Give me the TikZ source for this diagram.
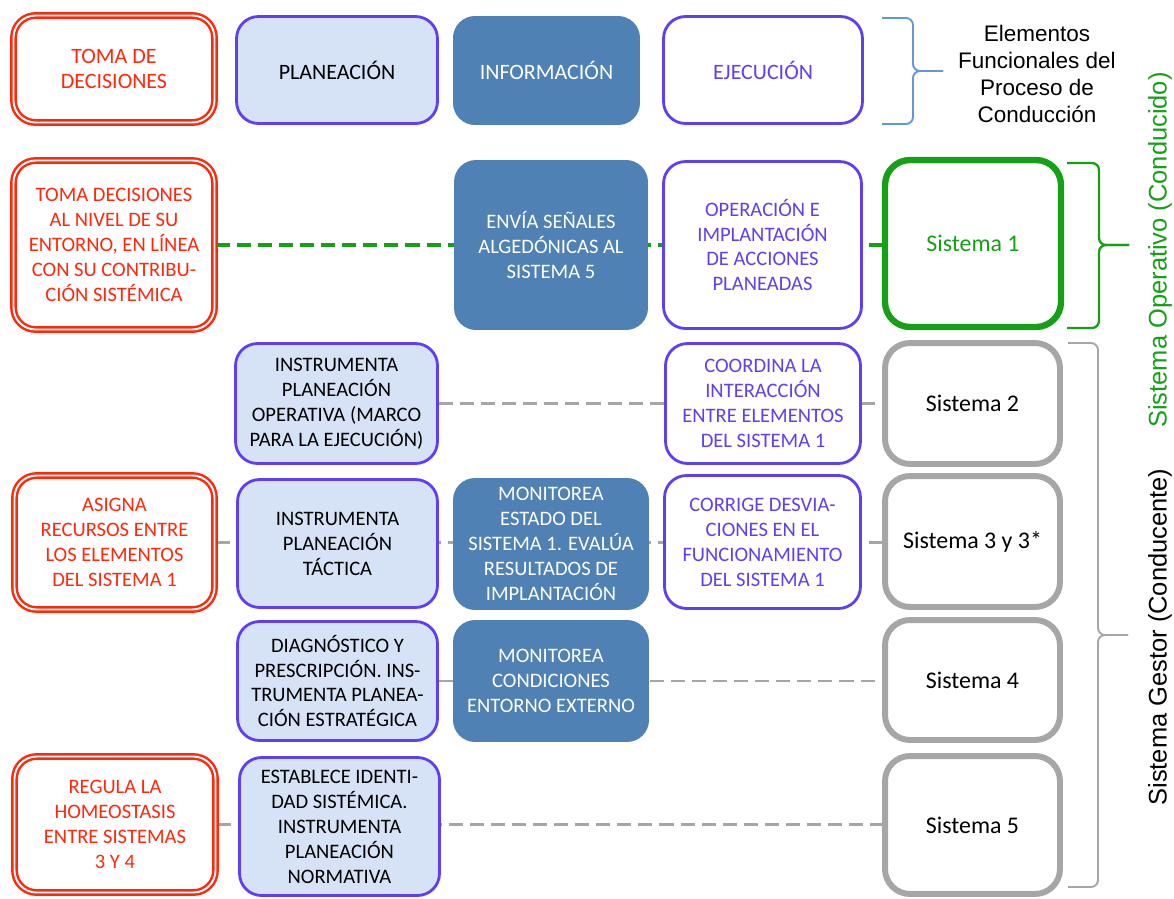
\documentclass[tikz,border=0pt]{standalone}
\usepackage{fontspec}
\setmainfont{Carlito}
\newfontfamily\arialfont{Liberation Sans}
\usepackage{tikz}
\usetikzlibrary{backgrounds}
\definecolor{redc}{RGB}{255,40,10}
\definecolor{purplec}{RGB}{96,62,245}
\definecolor{lightc}{RGB}{214,226,245}
\definecolor{darkc}{RGB}{79,129,181}
\definecolor{grayc}{RGB}{166,166,166}
\definecolor{greenc}{RGB}{22,160,22}
\definecolor{bracec}{RGB}{100,150,220}
\newcommand{\boxfont}{\fontsize{11.7}{14.2}\selectfont}
\newcommand{\topfont}{\fontsize{12.5}{14.6}\selectfont}
\newcommand{\sysfont}{\fontsize{13.6}{16}\selectfont}

\begin{document}
\begin{tikzpicture}[x=0.02cm, y=-0.02cm,
  every node/.style={inner sep=0pt, align=center, font=\boxfont},
  redbox/.style={draw=redc, double=white, double distance=1.1pt, line width=1.4pt, rounded corners=0.44cm, fill=white, text=redc},
  planbox/.style={draw=purplec, line width=1.6pt, rounded corners=0.44cm, fill=lightc},
  execbox/.style={draw=purplec, line width=1.6pt, rounded corners=0.44cm, fill=white, text=purplec},
  infobox/.style={rounded corners=0.44cm, fill=darkc, text=white},
  sysbox/.style={draw=grayc, line width=3.4pt, rounded corners=0.5cm, fill=white, font=\sysfont},
  graydash/.style={draw=grayc, line width=1.7pt, dash pattern=on 8pt off 4pt},
  braceline/.style={line width=1.1pt, rounded corners=4pt}]
\useasboundingbox (0,0) rectangle (1174,899);

\node[redbox, minimum width=4.02cm, minimum height=2.14cm, font=\topfont] (tomaDec) at (114,69) {TOMA DE\\DECISIONES};
\node[planbox, minimum width=4.02cm, minimum height=2.14cm, font=\topfont] (planea) at (337,70) {PLANEACIÓN};
\node[infobox, minimum width=3.74cm, minimum height=2.18cm, font=\topfont] (informa) at (546.5,70.5) {INFORMACIÓN};
\node[execbox, minimum width=3.98cm, minimum height=2.14cm, font=\topfont] (ejecuta) at (763,70) {EJECUCIÓN};

\node[redbox, minimum width=4.02cm, minimum height=3.38cm] (decEntorno) at (114,245) {TOMA DECISIONES\\AL NIVEL DE SU\\ENTORNO, EN LÍNEA\\CON SU CONTRIBU-\\CIÓN SISTÉMICA};
\node[infobox, minimum width=3.88cm, minimum height=3.40cm] (algedon) at (551,245) {ENVÍA SEÑALES\\ALGEDÓNICAS AL\\SISTEMA 5};
\node[execbox, minimum width=3.96cm, minimum height=3.34cm] (operacion) at (762.5,245) {OPERACIÓN E\\IMPLANTACIÓN\\DE ACCIONES\\PLANEADAS};
\node[sysbox, draw=greenc, line width=3.6pt, text=greenc, minimum width=3.52cm, minimum height=3.34cm] (sisUno) at (973,243.5) {Sistema 1};

\node[planbox, minimum width=4.04cm, minimum height=2.40cm] (planOper) at (336.5,403.5) {INSTRUMENTA\\PLANEACIÓN\\OPERATIVA (MARCO\\PARA LA EJECUCIÓN)};
\node[execbox, minimum width=3.90cm, minimum height=2.40cm] (coordina) at (763,403.5) {COORDINA LA\\INTERACCIÓN\\ENTRE ELEMENTOS\\DEL SISTEMA 1};
\node[sysbox, minimum width=3.50cm, minimum height=2.42cm] (sisDos) at (972.5,403.5) {Sistema 2};

\node[redbox, minimum width=4.00cm, minimum height=2.68cm] (asigna) at (114.5,542.5) {ASIGNA\\RECURSOS ENTRE\\LOS ELEMENTOS\\DEL SISTEMA 1};
\node[planbox, minimum width=4.00cm, minimum height=2.56cm] (planTac) at (337.5,543.5) {INSTRUMENTA\\PLANEACIÓN\\TÁCTICA};
\node[infobox, minimum width=3.92cm, minimum height=2.64cm] (monEstado) at (551,544) {MONITOREA\\ESTADO DEL\\SISTEMA 1. EVALÚA\\RESULTADOS DE\\IMPLANTACIÓN};
\node[execbox, minimum width=3.92cm, minimum height=2.66cm] (corrige) at (762.5,542) {CORRIGE DESVIA-\\CIONES EN EL\\FUNCIONAMIENTO\\DEL SISTEMA 1};
\node[sysbox, minimum width=3.50cm, minimum height=2.62cm] (sisTres) at (972.5,541.5) {Sistema 3 y 3*};

\node[planbox, minimum width=4.00cm, minimum height=2.38cm] (diagnos) at (337.5,681) {DIAGNÓSTICO Y\\PRESCRIPCIÓN. INS-\\TRUMENTA PLANEA-\\CIÓN ESTRATÉGICA};
\node[infobox, minimum width=3.92cm, minimum height=2.44cm] (monEntorno) at (551,681) {MONITOREA\\CONDICIONES\\ENTORNO EXTERNO};
\node[sysbox, minimum width=3.50cm, minimum height=2.40cm] (sisCuatro) at (972.5,680) {Sistema 4};

\node[redbox, minimum width=4.02cm, minimum height=2.72cm] (regula) at (115,824.5) {REGULA LA\\HOMEOSTASIS\\ENTRE SISTEMAS\\3 Y 4};
\node[planbox, minimum width=4.00cm, minimum height=2.76cm] (identidad) at (339.5,826.5) {ESTABLECE IDENTI-\\DAD SISTÉMICA.\\INSTRUMENTA\\PLANEACIÓN\\NORMATIVA};
\node[sysbox, minimum width=3.50cm, minimum height=2.76cm] (sisCinco) at (972.5,825) {Sistema 5};

\begin{scope}[on background layer]
\draw[graydash, draw=greenc, line width=1.8pt] (decEntorno.east) -- (decEntorno.east -| sisUno.west);
\draw[graydash] (planOper.east) -- (planOper.east -| sisDos.west);
\draw[graydash] (asigna.east) -- (asigna.east -| sisTres.west);
\draw[graydash] (diagnos.east) -- (diagnos.east -| sisCuatro.west);
\draw[graydash] (regula.east) -- (regula.east -| sisCinco.west);
\end{scope}

\coordinate (elemTop) at (882,18);
\coordinate (elemBot) at (882,124);
\coordinate (operTop) at (1067,163);
\coordinate (operBot) at (1067,328);
\coordinate (gestTop) at (1068,343);
\coordinate (gestBot) at (1068,887);
\draw[braceline, bracec] (elemTop) -- ++(31,0) -- ++(0,53) -- ++(30,0);
\draw[braceline, bracec] (elemBot) -- ++(31,0) -- ++(0,-53) -- ++(30,0);
\draw[braceline, greenc, line width=1.3pt] (operTop) -- ++(32,0) -- ++(0,82) -- ++(30,0);
\draw[braceline, greenc, line width=1.3pt] (operBot) -- ++(32,0) -- ++(0,-83) -- ++(30,0);
\draw[braceline, grayc] (gestTop) -- ++(30,0) -- ++(0,292) -- ++(30,0);
\draw[braceline, grayc] (gestBot) -- ++(30,0) -- ++(0,-252) -- ++(30,0);

\node[font=\arialfont\fontsize{12.8}{15.3}\selectfont] (elementos) at (1037,74) {Elementos\\Funcionales del\\Proceso de\\Conducción};
\node[font=\arialfont\fontsize{14.5}{16}\selectfont, text=greenc, rotate=90] (operativo) at (1160,250) {Sistema Operativo (Conducido)};
\node[font=\arialfont\fontsize{14.5}{16}\selectfont, rotate=90] (gestor) at (1160,637) {Sistema Gestor (Conducente)};
\end{tikzpicture}
\end{document}
